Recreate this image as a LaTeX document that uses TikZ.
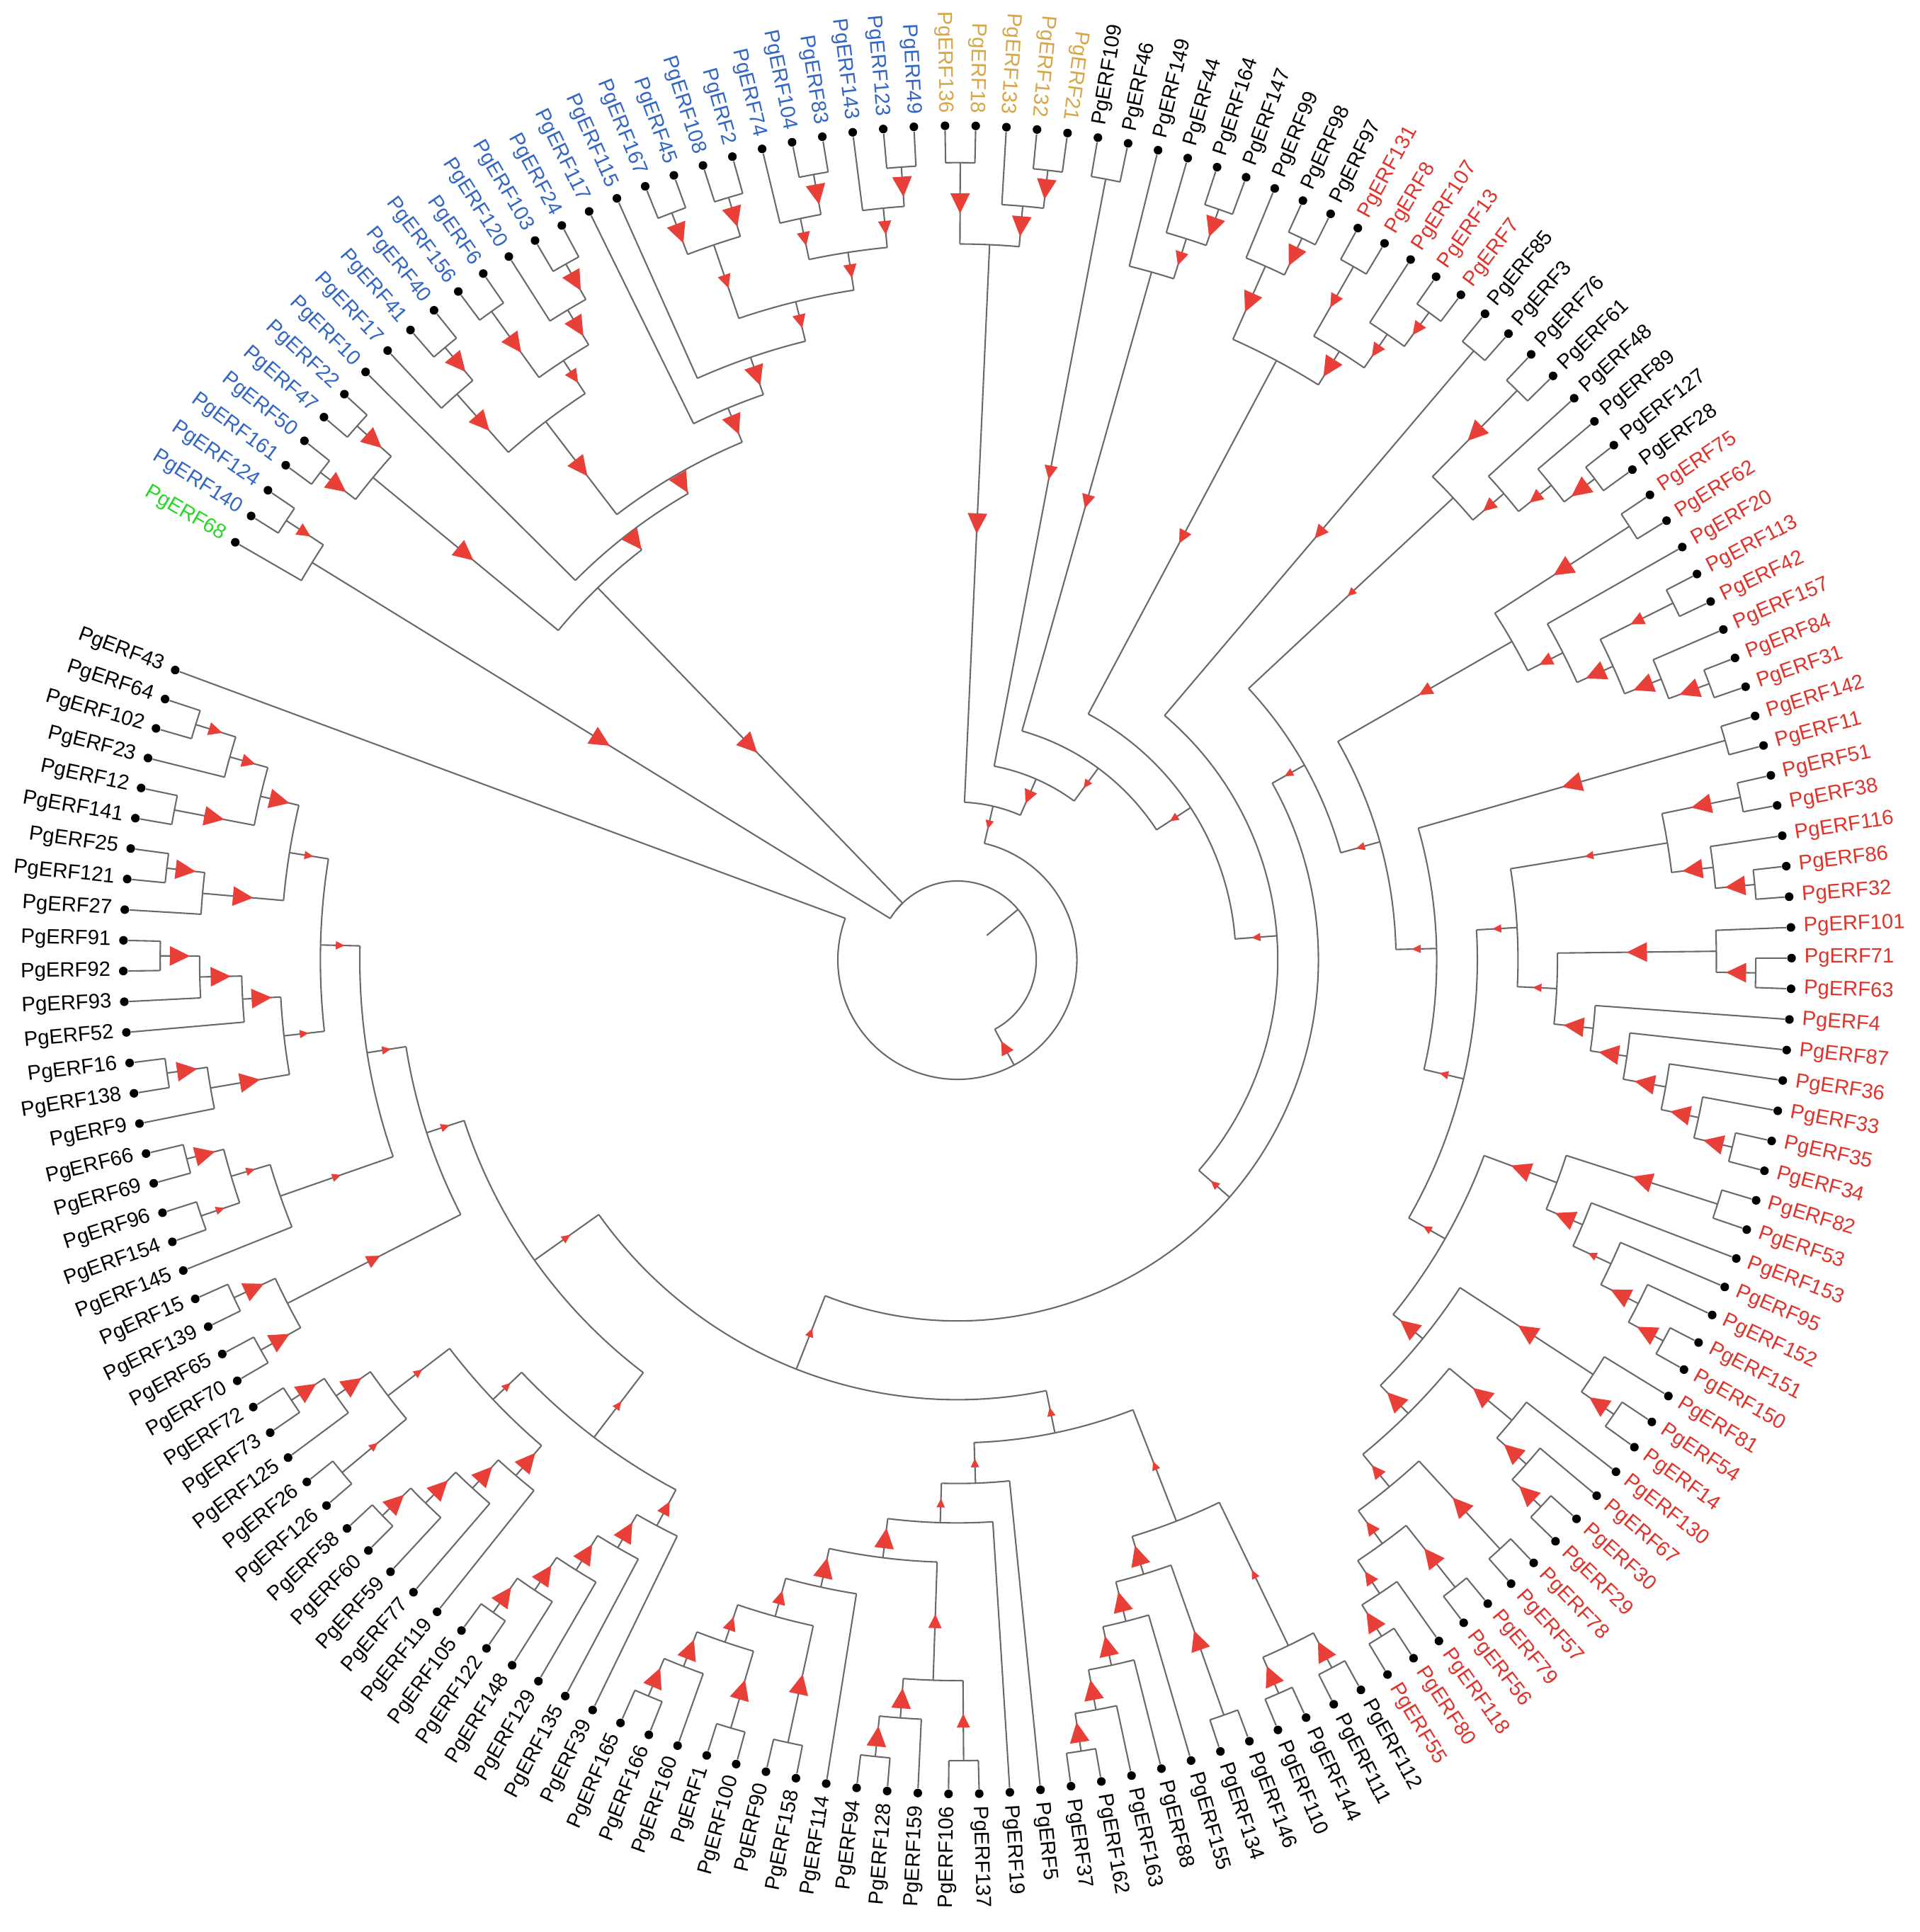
\documentclass[tikz,border=0pt]{standalone}
\usepackage{fontspec}
\setmainfont{Liberation Sans}
\definecolor{cgold}{RGB}{214,166,72}
\definecolor{cred}{RGB}{222,52,44}
\definecolor{cblue}{RGB}{52,102,196}
\definecolor{cgreen}{RGB}{40,215,40}
\definecolor{carrow}{RGB}{232,64,56}
\definecolor{cline}{RGB}{105,105,105}
\tikzset{
  br/.style={draw=cline,line width=0.6pt},
  leafdot/.style={circle,fill=black,inner sep=0pt,minimum size=3.5pt},
  lab/.style={inner sep=0pt,font=\fontsize{8.4}{10}\selectfont},
  arr/.style={fill=carrow}
}
\newcommand\setv[2]{\expandafter\xdef\csname #1\endcsname{#2}}
\newcommand\getv[1]{\csname #1\endcsname}
\newcommand\mkleaf[3]{%
  \pgfmathsetmacro\la{#2<140 ? 90.85-(#2-1)*2.11 : 443.25-(#2-1)*2.11}%
  \setv{ang@e#1}{\la}\setv{rad@e#1}{677}\setv{arw@e#1}{0}%
  \node[leafdot] (e#1) at (\la:338.5pt) {};%
  \pgfmathtruncatemacro\rs{and(#2>5,#2<87)}%
  \ifnum\rs=1
    \node[lab,text=#3,anchor=west,rotate=\la] (t#1) at (\la:343.5pt) {PgERF#1};%
  \else
    \pgfmathsetmacro\lr{\la+180}%
    \node[lab,text=#3,anchor=east,rotate=\lr] (t#1) at (\la:343.5pt) {PgERF#1};%
  \fi}
\newcommand\mkarrow[4]{%
  \ifnum#4>0
    \pgfmathsetmacro\mr{(#2+#3*0.5)/2}%
    \ifcase#4\or\def\aL{3.6}\def\aW{1.7}\or\def\aL{5.6}\def\aW{2.7}\or\def\aL{8.2}\def\aW{4}\fi
    \pgfmathsetmacro\hl{\aL/2}%
    \fill[arr,shift={(#1:\mr pt)},rotate=#1] (-\hl pt,0pt) -- (\hl pt,\aW pt) -- (\hl pt,-\aW pt) -- cycle;%
  \fi}
\newcommand\mknode[5]{%
  \edef\ca{\getv{ang@#3}}\edef\cb{\getv{ang@#4}}%
  \edef\ra{\getv{rad@#3}}\edef\rb{\getv{rad@#4}}%
  \edef\sa{\getv{arw@#3}}\edef\sb{\getv{arw@#4}}%
  \pgfmathsetmacro\am{(\ca+\cb)/2}%
  \pgfmathsetmacro\rp{#2*0.5}%
  \setv{ang@#1}{\am}\setv{rad@#1}{#2}\setv{arw@#1}{#5}%
  \coordinate (#1) at (\am:\rp pt);%
  \coordinate (#1-a) at (\ca:\rp pt);%
  \coordinate (#1-b) at (\cb:\rp pt);%
  \draw[br] (#1-a) arc[start angle=\ca, end angle=\cb, radius=\rp pt];%
  \draw[br] (#1-a) -- (#3);%
  \draw[br] (#1-b) -- (#4);%
  \mkarrow{\ca}{\rp}{\ra}{\sa}%
  \mkarrow{\cb}{\rp}{\rb}{\sb}%
}
\begin{document}
\begin{tikzpicture}
\fill[white] (-388.5pt,-394.5pt) rectangle (390.5pt,389.5pt);
\useasboundingbox (-388.5pt,-394.5pt) rectangle (390.5pt,389.5pt);
\foreach \n/\i/\c in {136/1/cgold,18/2/cgold,133/3/cgold,132/4/cgold,21/5/cgold,
 109/6/black,46/7/black,149/8/black,44/9/black,164/10/black,147/11/black,99/12/black,98/13/black,97/14/black,
 131/15/cred,8/16/cred,107/17/cred,13/18/cred,7/19/cred,
 85/20/black,3/21/black,76/22/black,61/23/black,48/24/black,89/25/black,127/26/black,28/27/black,
 75/28/cred,62/29/cred,20/30/cred,113/31/cred,42/32/cred,157/33/cred,84/34/cred,31/35/cred,142/36/cred,11/37/cred,
 51/38/cred,38/39/cred,116/40/cred,86/41/cred,32/42/cred,101/43/cred,71/44/cred,63/45/cred,4/46/cred,87/47/cred,
 36/48/cred,33/49/cred,35/50/cred,34/51/cred,82/52/cred,53/53/cred,153/54/cred,95/55/cred,152/56/cred,151/57/cred,
 150/58/cred,81/59/cred,54/60/cred,14/61/cred,130/62/cred,67/63/cred,30/64/cred,29/65/cred,78/66/cred,57/67/cred,
 79/68/cred,56/69/cred,118/70/cred,80/71/cred,55/72/cred,
 112/73/black,111/74/black,144/75/black,110/76/black,146/77/black,134/78/black,155/79/black,88/80/black,163/81/black,
 162/82/black,37/83/black,5/84/black,19/85/black,137/86/black,106/87/black,159/88/black,128/89/black,94/90/black,
 114/91/black,158/92/black,90/93/black,100/94/black,1/95/black,160/96/black,166/97/black,165/98/black,39/99/black,
 135/100/black,129/101/black,148/102/black,122/103/black,105/104/black,119/105/black,77/106/black,59/107/black,
 60/108/black,58/109/black,126/110/black,26/111/black,125/112/black,73/113/black,72/114/black,70/115/black,
 65/116/black,139/117/black,15/118/black,145/119/black,154/120/black,96/121/black,69/122/black,66/123/black,
 9/124/black,138/125/black,16/126/black,52/127/black,93/128/black,92/129/black,91/130/black,27/131/black,
 121/132/black,25/133/black,141/134/black,12/135/black,23/136/black,102/137/black,64/138/black,43/139/black,
 68/140/cgreen,
 140/141/cblue,124/142/cblue,161/143/cblue,50/144/cblue,47/145/cblue,22/146/cblue,10/147/cblue,17/148/cblue,
 41/149/cblue,40/150/cblue,156/151/cblue,6/152/cblue,120/153/cblue,103/154/cblue,24/155/cblue,117/156/cblue,
 115/157/cblue,167/158/cblue,45/159/cblue,108/160/cblue,2/161/cblue,74/162/cblue,104/163/cblue,83/164/cblue,
 143/165/cblue,123/166/cblue,49/167/cblue}
 {\mkleaf{\n}{\i}{\c}}
% top clades
\mknode{ya}{647}{e136}{e18}{3}
\mknode{yb}{645}{e132}{e21}{3}
\mknode{yc}{614}{e133}{yb}{3}
\mknode{Y}{581}{ya}{yc}{3}
\mknode{P}{645}{e109}{e46}{2}
\mknode{qa}{645}{e164}{e147}{3}
\mknode{qb}{614}{e44}{qa}{2}
\mknode{Q}{580}{e149}{qb}{2}
\mknode{ra}{649}{e98}{e97}{3}
\mknode{rb}{616}{e99}{ra}{3}
\mknode{rc}{648}{e131}{e8}{2}
\mknode{rd}{650}{e13}{e7}{2}
\mknode{re}{616}{e107}{rd}{2}
\mknode{rf}{583}{rc}{re}{3}
\mknode{R}{551}{rb}{rf}{2}
\mknode{pc}{648}{e85}{e3}{2}
\mknode{sa}{648}{e76}{e61}{3}
\mknode{sb}{648}{e127}{e28}{3}
\mknode{sc}{617}{e89}{sb}{2}
\mknode{sd}{583}{e48}{sc}{2}
\mknode{S}{550}{sa}{sd}{1}
\mknode{ta}{649}{e75}{e62}{3}
\mknode{tb}{650}{e84}{e31}{3}
\mknode{tc}{615}{e157}{tb}{3}
\mknode{td}{649}{e113}{e42}{2}
\mknode{te}{583}{td}{tc}{3}
\mknode{tf}{551}{e20}{te}{2}
\mknode{T}{519}{ta}{tf}{2}
\mknode{pk}{648}{e142}{e11}{3}
\mknode{ua}{649}{e51}{e38}{3}
\mknode{ub}{650}{e86}{e32}{3}
\mknode{uc}{618}{e116}{ub}{3}
\mknode{U}{584}{ua}{uc}{1}
\mknode{va}{648}{e71}{e63}{3}
\mknode{vb}{616}{e101}{va}{3}
\mknode{wa}{647}{e35}{e34}{3}
\mknode{wb}{615}{e33}{wa}{3}
\mknode{wc}{584}{e36}{wb}{3}
\mknode{wd}{549}{e87}{wc}{3}
\mknode{we}{519}{e4}{wd}{3}
\mknode{V}{487}{vb}{we}{1}
\mknode{XK}{455}{U}{V}{1}
\mknode{za}{648}{e82}{e53}{3}
\mknode{zb}{651}{e151}{e150}{3}
\mknode{zc}{619}{e152}{zb}{3}
\mknode{zd}{585}{e95}{zc}{1}
\mknode{ze}{551}{e153}{zd}{3}
\mknode{Z}{519}{za}{ze}{3}
\mknode{aca}{648}{e54}{e14}{3}
\mknode{AC}{616}{e81}{aca}{3}
\mknode{aga}{649}{e30}{e29}{3}
\mknode{afa}{617}{e67}{aga}{3}
\mknode{aea}{585}{e130}{afa}{3}
\mknode{aha}{650}{e78}{e57}{3}
\mknode{aia}{650}{e79}{e56}{3}
\mknode{aka}{648}{e80}{e55}{3}
\mknode{aja}{618}{e118}{aka}{2}
\mknode{aib}{586}{aia}{aja}{2}
\mknode{ahb}{553}{aha}{aib}{2}
\mknode{AD}{519}{aea}{ahb}{3}
\mknode{AA}{487}{AC}{AD}{3}
\mknode{XL}{456}{Z}{AA}{1}
\mknode{XJ}{422}{XK}{XL}{1}
\mknode{XI}{389}{pk}{XJ}{1}
\mknode{XH}{356}{T}{XI}{1}
\mknode{XG}{323}{S}{XH}{1}
% bottom
\mknode{bpa}{650}{e112}{e111}{3}
\mknode{bpb}{650}{e144}{e110}{3}
\mknode{bp}{618}{bpa}{bpb}{1}
\mknode{bla}{650}{e146}{e134}{3}
\mknode{bma}{650}{e162}{e37}{3}
\mknode{bmb}{619}{e163}{bma}{3}
\mknode{bmc}{586}{e88}{bmb}{3}
\mknode{bmd}{554}{e155}{bmc}{3}
\mknode{bme}{521}{bla}{bmd}{3}
\mknode{bk}{489}{bp}{bme}{1}
\mknode{bja}{650}{e137}{e106}{2}
\mknode{bjb}{650}{e128}{e94}{3}
\mknode{bjc}{617}{e159}{bjb}{3}
\mknode{bj}{585}{bja}{bjc}{2}
\mknode{bga}{650}{e158}{e90}{3}
\mknode{bha}{650}{e100}{e1}{3}
\mknode{bhb}{648}{e166}{e165}{3}
\mknode{bhc}{615}{e160}{bhb}{3}
\mknode{bh}{585}{bha}{bhc}{2}
\mknode{bg}{553}{bga}{bh}{2}
\mknode{bf}{521}{e114}{bg}{3}
\mknode{be}{489}{bj}{bf}{3}
\mknode{bd}{457}{e19}{be}{1}
\mknode{bc}{425}{e5}{bd}{1}
\mknode{bb}{392}{bk}{bc}{1}
% lower left
\mknode{ca}{650}{e122}{e105}{3}
\mknode{cb}{616}{e148}{ca}{3}
\mknode{cc}{584}{e129}{cb}{3}
\mknode{cd}{551}{e135}{cc}{3}
\mknode{ce}{520}{e39}{cd}{2}
\mknode{ga}{649}{e60}{e58}{3}
\mknode{gb}{617}{e59}{ga}{3}
\mknode{gc}{582}{e77}{gb}{3}
\mknode{gd}{551}{e119}{gc}{3}
\mknode{da}{648}{e73}{e72}{3}
\mknode{db}{616}{e125}{da}{3}
\mknode{dc}{650}{e126}{e26}{1}
\mknode{dd}{582}{dc}{db}{1}
\mknode{de}{519}{gd}{dd}{1}
\mknode{df}{487}{ce}{de}{1}
\mknode{fa}{648}{e139}{e15}{3}
\mknode{fb}{648}{e70}{e65}{3}
\mknode{fc}{611}{fb}{fa}{2}
\mknode{la}{646}{e69}{e66}{3}
\mknode{lb}{648}{e154}{e96}{1}
\mknode{lc}{615}{lb}{la}{1}
\mknode{ld}{582}{e145}{lc}{1}
\mknode{le}{647}{e102}{e64}{2}
\mknode{lf}{613}{e23}{le}{2}
\mknode{lg}{647}{e141}{e12}{3}
\mknode{lh}{581}{lg}{lf}{3}
\mknode{li}{646}{e121}{e25}{3}
\mknode{lj}{615}{e27}{li}{3}
\mknode{lk}{549}{lj}{lh}{1}
\mknode{ll}{647}{e92}{e91}{3}
\mknode{lm}{615}{e93}{ll}{3}
\mknode{ln}{581}{e52}{lm}{3}
\mknode{lo}{648}{e138}{e16}{3}
\mknode{lp}{615}{e9}{lo}{3}
\mknode{lq}{550}{lp}{ln}{1}
\mknode{lr}{517}{lq}{lk}{1}
\mknode{ls}{485}{ld}{lr}{1}
\mknode{lt}{453}{fc}{ls}{1}
\mknode{bl}{421}{df}{lt}{1}
\mknode{ba}{357}{bb}{bl}{1}
% backbone
\mknode{XF}{293}{ba}{XG}{1}
\mknode{XE}{260}{XF}{pc}{1}
\mknode{XD}{226}{XE}{R}{1}
\mknode{XC}{193}{XD}{Q}{1}
\mknode{XB}{160}{XC}{P}{2}
\mknode{XA}{128}{XB}{Y}{1}
\mknode{W}{97}{e43}{XA}{2}
% blue
\mknode{ka}{651}{e124}{e140}{2}
\mknode{K1}{615}{ka}{e68}{3}
\mknode{kb}{651}{e50}{e161}{3}
\mknode{kc}{652}{e22}{e47}{3}
\mknode{K2}{615}{kb}{kc}{3}
\mknode{kd}{648}{e40}{e41}{3}
\mknode{K4}{613}{kd}{e17}{3}
\mknode{ke}{648}{e6}{e156}{3}
\mknode{kf}{648}{e24}{e103}{3}
\mknode{kg}{615}{kf}{e120}{3}
\mknode{K5}{582}{kg}{ke}{2}
\mknode{K6}{550}{K5}{K4}{3}
\mknode{qc}{649}{e45}{e167}{3}
\mknode{qd}{646}{e2}{e108}{3}
\mknode{Q1}{613}{qd}{qc}{2}
\mknode{qe}{648}{e83}{e104}{3}
\mknode{qf}{615}{qe}{e74}{2}
\mknode{qg}{645}{e49}{e123}{3}
\mknode{qh}{613}{qg}{e143}{2}
\mknode{Q3}{581}{qh}{qf}{2}
\mknode{Q2}{550}{Q3}{Q1}{2}
\mknode{M1}{517}{Q2}{e115}{3}
\mknode{K11}{485}{M1}{e117}{3}
\mknode{K10}{455}{K11}{K6}{3}
\mknode{K9}{437}{K10}{e10}{3}
\mknode{K3}{420}{K9}{K2}{3}
\mknode{BB}{64}{K3}{K1}{0}
\mknode{root}{64}{W}{BB}{0}
\coordinate (rootstub) at (\getv{ang@root}:15.5pt);
\draw[br] (root) -- (rootstub);
\end{tikzpicture}
\end{document}
